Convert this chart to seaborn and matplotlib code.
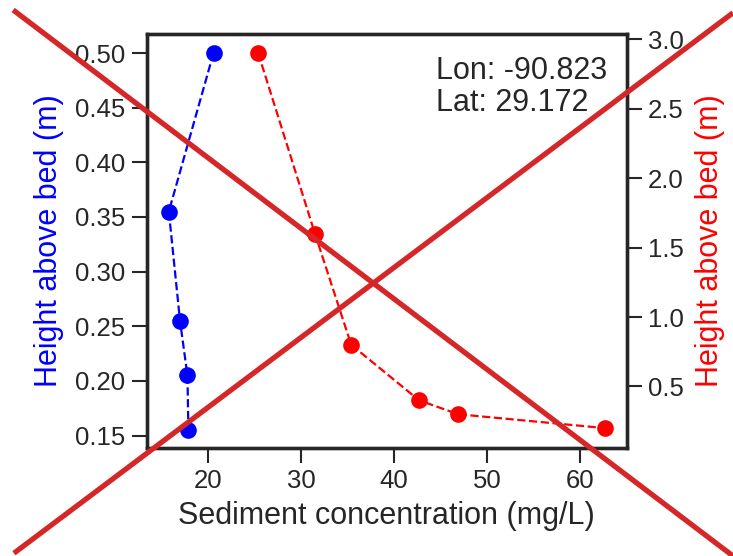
import matplotlib
matplotlib.use("Agg")
import matplotlib.pyplot as plt
import seaborn as sns
import pandas as pd
from matplotlib.lines import Line2D

# Data
blue_conc = [20.6, 15.8, 17.0, 17.8, 17.9]
blue_height = [0.50, 0.355, 0.255, 0.205, 0.155]
red_conc = [25.4, 31.5, 35.4, 42.7, 46.9, 62.7]
red_height = [2.9, 1.6, 0.8, 0.4, 0.3, 0.2]
x_ticks = [20, 30, 40, 50, 60]
left_ticks = [0.15, 0.20, 0.25, 0.30, 0.35, 0.40, 0.45, 0.50]
right_ticks = [0.5, 1.0, 1.5, 2.0, 2.5, 3.0]
info_text = "Lon: -90.823\nLat: 29.172"

sns.set_theme(style="ticks")
plt.rcParams['font.family'] = ['Liberation Sans', 'DejaVu Sans']

fig = plt.figure(figsize=(7.33, 5.56), dpi=100)
ax = fig.add_axes([0.2005, 0.195, 0.855 - 0.2005, 0.9394 - 0.195])
ax2 = ax.twinx()

df_b = pd.DataFrame({"conc": blue_conc, "h": blue_height})
df_r = pd.DataFrame({"conc": red_conc, "h": red_height})

sns.lineplot(data=df_b, x="conc", y="h", sort=False, ax=ax, color="blue",
             linestyle="--", linewidth=1.6, marker="o", markersize=12,
             markeredgewidth=0)
sns.lineplot(data=df_r, x="conc", y="h", sort=False, ax=ax2, color="red",
             linestyle="--", linewidth=1.6, marker="o", markersize=12,
             markeredgewidth=0)

ax.set_xlim(13.45, 65.0)
ax.set_ylim(0.139, 0.5177)
ax2.set_ylim(0.06, 3.04)
ax.set_xticks(x_ticks)
ax.set_yticks(left_ticks)
ax.set_yticklabels([f"{v:.2f}" for v in left_ticks])
ax2.set_yticks(right_ticks)
ax2.set_yticklabels([f"{v:.1f}" for v in right_ticks])

ax.set_xlabel("Sediment concentration (mg/L)", fontsize=22, color="#262626", labelpad=6)
ax.set_ylabel("Height above bed (m)", fontsize=22, color="blue", labelpad=8)
ax2.set_ylabel("Height above bed (m)", fontsize=22, color="red", labelpad=8)

for a in (ax, ax2):
    a.tick_params(labelsize=18.5, length=10.5, width=1.5, color="#262626",
                  labelcolor="#262626", pad=5)
    for s in a.spines.values():
        s.set_visible(True)
        s.set_linewidth(2.4)
        s.set_color("#262626")

ax.text(0.602, 0.945, info_text, transform=ax.transAxes, fontsize=22,
        va="top", ha="left", color="#262626", linespacing=1.05)

# Red cross over the whole figure
fig.add_artist(Line2D([0.018, 1.0], [0.982, 0.0], transform=fig.transFigure,
                      color="#d62728", linewidth=3.8, solid_capstyle="butt"))
fig.add_artist(Line2D([0.019, 1.0], [0.005, 0.977], transform=fig.transFigure,
                      color="#d62728", linewidth=3.8, solid_capstyle="butt"))

fig.savefig("out.png", dpi=100)
